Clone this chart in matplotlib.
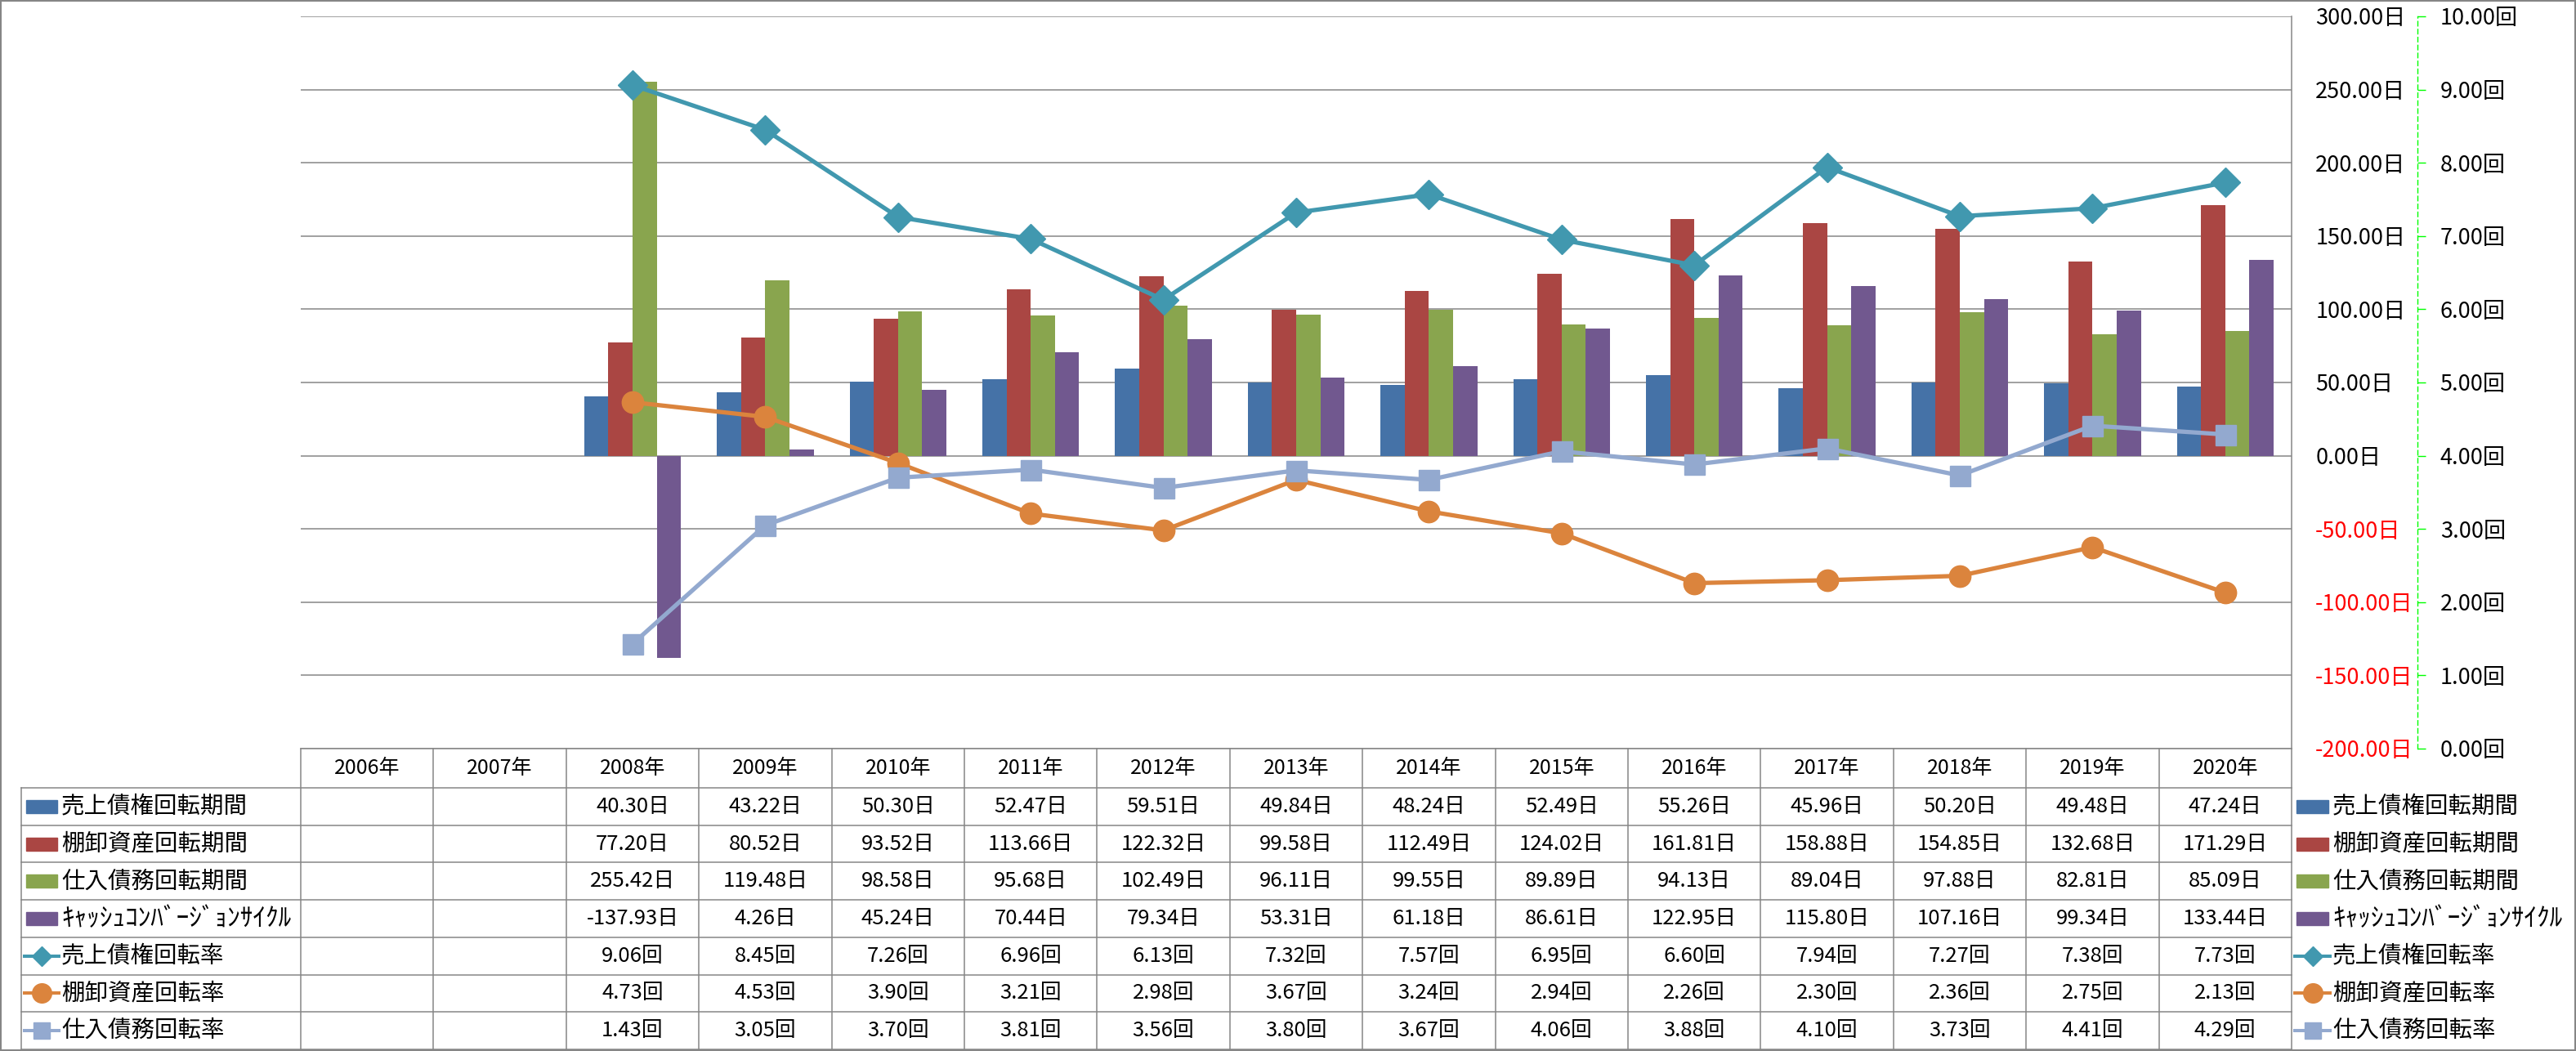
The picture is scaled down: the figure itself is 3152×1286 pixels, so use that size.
import numpy as np
import matplotlib.pyplot as plt
from matplotlib.patches import Rectangle

plt.rcParams['font.family'] = ['Noto Sans CJK JP', 'DejaVu Sans']

nan = np.nan
years = ['2006年', '2007年', '2008年', '2009年', '2010年', '2011年', '2012年',
         '2013年', '2014年', '2015年', '2016年', '2017年', '2018年', '2019年', '2020年']

# 日数 (bars, left scale)
ar_days = [nan, nan, 40.30, 43.22, 50.30, 52.47, 59.51, 49.84, 48.24, 52.49, 55.26, 45.96, 50.20, 49.48, 47.24]
inv_days = [nan, nan, 77.20, 80.52, 93.52, 113.66, 122.32, 99.58, 112.49, 124.02, 161.81, 158.88, 154.85, 132.68, 171.29]
ap_days = [nan, nan, 255.42, 119.48, 98.58, 95.68, 102.49, 96.11, 99.55, 89.89, 94.13, 89.04, 97.88, 82.81, 85.09]
ccc_days = [nan, nan, -137.93, 4.26, 45.24, 70.44, 79.34, 53.31, 61.18, 86.61, 122.95, 115.80, 107.16, 99.34, 133.44]

# 回転率 (lines, right scale)
ar_turn = [nan, nan, 9.06, 8.45, 7.26, 6.96, 6.13, 7.32, 7.57, 6.95, 6.60, 7.94, 7.27, 7.38, 7.73]
inv_turn = [nan, nan, 4.73, 4.53, 3.90, 3.21, 2.98, 3.67, 3.24, 2.94, 2.26, 2.30, 2.36, 2.75, 2.13]
ap_turn = [nan, nan, 1.43, 3.05, 3.70, 3.81, 3.56, 3.80, 3.67, 4.06, 3.88, 4.10, 3.73, 4.41, 4.29]

bar_names = ['売上債権回転期間', '棚卸資産回転期間', '仕入債務回転期間', 'ｷｬｯｼｭｺﾝﾊﾞｰｼﾞｮﾝｻｲｸﾙ']
line_names = ['売上債権回転率', '棚卸資産回転率', '仕入債務回転率']
bar_series = [ar_days, inv_days, ap_days, ccc_days]
line_series = [ar_turn, inv_turn, ap_turn]

bar_colors = ['#4572A7', '#AA4643', '#89A54E', '#71588F']
line_colors = ['#4198AF', '#DB843D', '#93A9CF']
markers = ['D', 'o', 's']
msizes = [18.5, 19, 18]
leg_msizes = [12.5, 17, 15]

grey = '#868686'
W, H = 3152, 1286
fig = plt.figure(figsize=(W / 100, H / 100), dpi=100)

# plot area (pixels)
L, R, T, B = 368, 2804, 20, 916
cw = (R - L) / len(years)
ax = fig.add_axes([L / W, 1 - B / H, (R - L) / W, (B - T) / H])
x = np.arange(len(years))
bw = 0.182
for i, (vals, c) in enumerate(zip(bar_series, bar_colors)):
    ax.bar(x + (i - 1.5) * bw, vals, bw, color=c, zorder=2)

ax2 = ax.twinx()

ax.set_xlim(-0.5, len(years) - 0.5)
ax.set_ylim(-200, 300)
dticks = np.arange(-200, 301, 50)
ax.set_yticks(dticks)
ax.set_yticklabels([f'{v:.2f}日' for v in dticks])
ax.yaxis.tick_right()
ax.tick_params(axis='y', length=0, pad=21, labelsize=19.5)
for tk, v in zip(ax.yaxis.get_major_ticks(), dticks):
    if v < 0:
        tk.label1.set_color('red')
        tk.label2.set_color('red')
ax.set_xticks([])
for s in ['left', 'top', 'bottom']:
    ax.spines[s].set_visible(False)
ax.spines['right'].set_visible(True)
ax.spines['right'].set_color(grey)
ax.spines['right'].set_linewidth(1.1)
ax.yaxis.grid(True, color=grey, lw=1.1)
ax.set_axisbelow(True)

ax2.set_ylim(0, 10)
tticks = np.arange(0, 11, 1)
ax2.set_yticks(tticks)
ax2.set_yticklabels([f'{v:.2f}回' for v in tticks])
for s in ['left', 'top', 'bottom']:
    ax2.spines[s].set_visible(False)
ax2.spines['right'].set_position(('outward', (2958 - R) * 0.72))
ax2.spines['right'].set_color('#00FF00')
ax2.spines['right'].set_linestyle((0, (4, 3)))
ax2.spines['right'].set_linewidth(1)
ax2.tick_params(axis='y', length=7, width=1, color='#00FF00', pad=13, labelsize=19.5)
for vals, c, m, ms in zip(line_series, line_colors, markers, msizes):
    ax2.plot(x, vals, color=c, lw=3.8, marker=m, ms=ms, mec=c, zorder=3)

# data table under the plot
def px2cat(p):
    return -0.5 + (p - L) / cw

tb_top, hd_bot, tb_bot = 916, 964, 1284
rh = (tb_bot - hd_bot) / 7
axt = fig.add_axes([0, 1 - tb_bot / H, 1, (tb_bot - tb_top) / H])
axt.set_xlim(px2cat(0), px2cat(W))
axt.set_ylim(tb_bot, tb_top)
axt.axis('off')

lkw = dict(color=grey, lw=1.1, clip_on=False)
axt.plot([px2cat(L), px2cat(R)], [tb_top, tb_top], **lkw)
for k in range(8):
    y = hd_bot + k * rh
    axt.plot([px2cat(26), px2cat(R)], [y, y], **lkw)
axt.plot([px2cat(26), px2cat(26)], [hd_bot, tb_bot], **lkw)
for k in range(len(years) + 1):
    axt.plot([k - 0.5, k - 0.5], [tb_top, tb_bot], **lkw)

for j, yr in enumerate(years):
    axt.text(j, (tb_top + hd_bot) / 2, yr, ha='center', va='center', fontsize=18)

rows = [(n, v, '日') for n, v in zip(bar_names, bar_series)] + \
       [(n, v, '回') for n, v in zip(line_names, line_series)]
for r, (name, vals, unit) in enumerate(rows):
    yc = hd_bot + (r + 0.5) * rh
    for j, v in enumerate(vals):
        if not np.isnan(v):
            axt.text(j, yc, f'{v:.2f}{unit}', ha='center', va='center', fontsize=18.5)
    # legend keys: inside table and at right
    for x0, x1, xt in [(30, 72, 75), (2808, 2851, 2854)]:
        if r < 4:
            axt.add_patch(Rectangle((px2cat(x0 + 2), yc - 8), (x1 - x0 - 4) / cw, 16,
                                    color=bar_colors[r], clip_on=False))
        else:
            li = r - 4
            axt.plot([px2cat(x0), px2cat((x0 + x1) / 2), px2cat(x1)], [yc, yc, yc],
                     color=line_colors[li], lw=2.9, marker=markers[li], ms=leg_msizes[li],
                     markevery=[1], clip_on=False)
        fs = 22.5 if r == 3 else 20.5
        axt.text(px2cat(xt), yc, name, ha='left', va='center', fontsize=fs)

fig.add_artist(Rectangle((0, 0), 1, 1, transform=fig.transFigure, fill=False, ec=grey, lw=2.9))

fig.savefig('out.png', dpi=100)
